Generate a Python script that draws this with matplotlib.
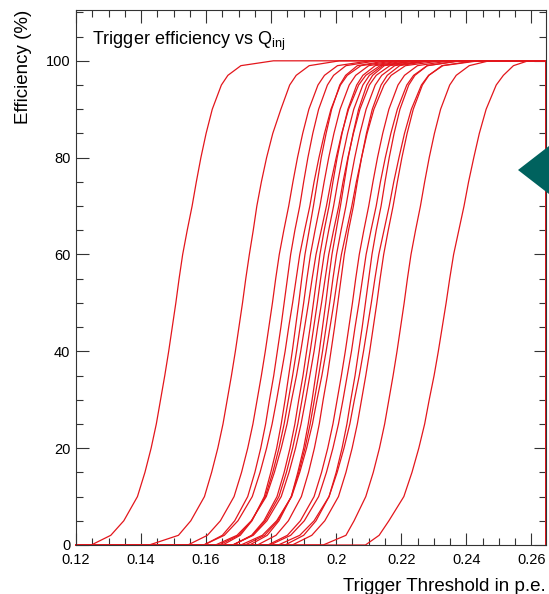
import numpy as np
import matplotlib
matplotlib.use('Agg')
import matplotlib.pyplot as plt
from matplotlib.patches import Polygon
from matplotlib.ticker import MultipleLocator

plt.rcParams['font.family'] = ['Liberation Sans', 'DejaVu Sans']
plt.rcParams['mathtext.fontset'] = 'custom'
plt.rcParams['mathtext.rm'] = 'Liberation Sans'

# efficiency levels (%) and the threshold (p.e.) where each channel reaches them
eff_levels = [0, 2, 5, 10, 15, 20, 25, 30, 35, 40, 45, 50,
              55, 60, 65, 70, 75, 80, 85, 90, 95, 97, 99, 100]

ch01 = [0.1247, 0.1307, 0.1347, 0.1389, 0.1412, 0.1431, 0.1447, 0.1460, 0.1473, 0.1485, 0.1496, 0.1507,
        0.1517, 0.1528, 0.1542, 0.1557, 0.1570, 0.1584, 0.1600, 0.1619, 0.1647, 0.1667, 0.1707, 0.1807]
ch02 = [0.1425, 0.1515, 0.1553, 0.1595, 0.1617, 0.1636, 0.1652, 0.1665, 0.1678, 0.1690, 0.1701, 0.1712,
        0.1722, 0.1733, 0.1745, 0.1756, 0.1770, 0.1786, 0.1805, 0.1830, 0.1857, 0.1877, 0.1917, 0.2010]
ch03 = [0.1544, 0.1604, 0.1644, 0.1686, 0.1709, 0.1728, 0.1744, 0.1757, 0.1770, 0.1782, 0.1793, 0.1804,
        0.1814, 0.1825, 0.1839, 0.1854, 0.1867, 0.1881, 0.1897, 0.1916, 0.1944, 0.1964, 0.2004, 0.2104]
ch04 = [0.1593, 0.1650, 0.1688, 0.1728, 0.1750, 0.1768, 0.1783, 0.1795, 0.1808, 0.1819, 0.1830, 0.1840,
        0.1850, 0.1860, 0.1873, 0.1888, 0.1900, 0.1913, 0.1928, 0.1946, 0.1973, 0.1992, 0.2030, 0.2125]
ch05 = [0.1593, 0.1656, 0.1698, 0.1742, 0.1766, 0.1786, 0.1803, 0.1817, 0.1830, 0.1843, 0.1854, 0.1866,
        0.1877, 0.1888, 0.1903, 0.1919, 0.1932, 0.1947, 0.1964, 0.1984, 0.2013, 0.2034, 0.2076, 0.2181]
ch06 = [0.1651, 0.1705, 0.1741, 0.1779, 0.1799, 0.1817, 0.1831, 0.1843, 0.1854, 0.1865, 0.1875, 0.1885,
        0.1894, 0.1904, 0.1917, 0.1930, 0.1942, 0.1954, 0.1969, 0.1986, 0.2011, 0.2029, 0.2065, 0.2155]
ch07 = [0.1640, 0.1700, 0.1740, 0.1782, 0.1805, 0.1824, 0.1840, 0.1853, 0.1866, 0.1878, 0.1889, 0.1900,
        0.1910, 0.1921, 0.1935, 0.1950, 0.1963, 0.1977, 0.1993, 0.2012, 0.2040, 0.2060, 0.2100, 0.2200]
ch08 = [0.1629, 0.1695, 0.1739, 0.1785, 0.1810, 0.1831, 0.1849, 0.1863, 0.1878, 0.1891, 0.1903, 0.1915,
        0.1926, 0.1938, 0.1954, 0.1970, 0.1984, 0.2000, 0.2017, 0.2038, 0.2069, 0.2091, 0.2135, 0.2245]
ch09 = [0.1683, 0.1740, 0.1778, 0.1818, 0.1840, 0.1858, 0.1873, 0.1885, 0.1898, 0.1909, 0.1920, 0.1930,
        0.1940, 0.1950, 0.1963, 0.1978, 0.1990, 0.2003, 0.2018, 0.2036, 0.2063, 0.2082, 0.2120, 0.2215]
ch10 = [0.1682, 0.1742, 0.1782, 0.1824, 0.1847, 0.1866, 0.1882, 0.1895, 0.1908, 0.1920, 0.1931, 0.1942,
        0.1952, 0.1963, 0.1977, 0.1992, 0.2005, 0.2019, 0.2035, 0.2054, 0.2082, 0.2102, 0.2142, 0.2242]
ch11 = [0.1682, 0.1745, 0.1787, 0.1831, 0.1855, 0.1875, 0.1892, 0.1906, 0.1919, 0.1932, 0.1943, 0.1955,
        0.1966, 0.1977, 0.1992, 0.2008, 0.2021, 0.2036, 0.2053, 0.2073, 0.2102, 0.2123, 0.2165, 0.2270]
ch12 = [0.1734, 0.1788, 0.1824, 0.1862, 0.1882, 0.1900, 0.1914, 0.1926, 0.1937, 0.1948, 0.1958, 0.1968,
        0.1977, 0.1987, 0.2000, 0.2013, 0.2025, 0.2037, 0.2052, 0.2069, 0.2094, 0.2112, 0.2148, 0.2238]
ch13 = [0.1720, 0.1780, 0.1820, 0.1862, 0.1885, 0.1904, 0.1920, 0.1933, 0.1946, 0.1958, 0.1969, 0.1980,
        0.1990, 0.2001, 0.2015, 0.2030, 0.2043, 0.2057, 0.2073, 0.2092, 0.2120, 0.2140, 0.2180, 0.2280]
ch14 = [0.1707, 0.1773, 0.1817, 0.1863, 0.1888, 0.1909, 0.1927, 0.1941, 0.1956, 0.1969, 0.1981, 0.1993,
        0.2004, 0.2016, 0.2032, 0.2048, 0.2062, 0.2078, 0.2095, 0.2116, 0.2147, 0.2169, 0.2213, 0.2323]
ch15 = [0.1758, 0.1815, 0.1853, 0.1893, 0.1915, 0.1933, 0.1948, 0.1960, 0.1973, 0.1984, 0.1995, 0.2005,
        0.2015, 0.2025, 0.2038, 0.2053, 0.2065, 0.2078, 0.2093, 0.2111, 0.2138, 0.2157, 0.2195, 0.2290]
ch16 = [0.1790, 0.1850, 0.1890, 0.1932, 0.1955, 0.1974, 0.1990, 0.2003, 0.2016, 0.2028, 0.2039, 0.2050,
        0.2060, 0.2071, 0.2085, 0.2100, 0.2113, 0.2127, 0.2143, 0.2162, 0.2190, 0.2210, 0.2250, 0.2350]
ch17 = [0.1797, 0.1860, 0.1902, 0.1946, 0.1970, 0.1990, 0.2007, 0.2021, 0.2034, 0.2047, 0.2058, 0.2070,
        0.2081, 0.2092, 0.2107, 0.2123, 0.2136, 0.2151, 0.2168, 0.2188, 0.2217, 0.2238, 0.2280, 0.2385]
ch18 = [0.1843, 0.1900, 0.1938, 0.1978, 0.2000, 0.2018, 0.2033, 0.2045, 0.2058, 0.2069, 0.2080, 0.2090,
        0.2100, 0.2110, 0.2123, 0.2138, 0.2150, 0.2163, 0.2178, 0.2196, 0.2223, 0.2242, 0.2280, 0.2375]
ch19 = [0.1822, 0.1888, 0.1932, 0.1978, 0.2003, 0.2024, 0.2042, 0.2056, 0.2071, 0.2084, 0.2096, 0.2108,
        0.2119, 0.2131, 0.2147, 0.2163, 0.2177, 0.2193, 0.2210, 0.2231, 0.2262, 0.2284, 0.2328, 0.2438]
ch20 = [0.1865, 0.1925, 0.1965, 0.2007, 0.2030, 0.2049, 0.2065, 0.2078, 0.2091, 0.2103, 0.2114, 0.2125,
        0.2135, 0.2146, 0.2160, 0.2175, 0.2188, 0.2202, 0.2218, 0.2237, 0.2265, 0.2285, 0.2325, 0.2425]
ch21 = [0.1960, 0.2030, 0.2055, 0.2091, 0.2114, 0.2133, 0.2149, 0.2162, 0.2175, 0.2187, 0.2198, 0.2209,
        0.2219, 0.2230, 0.2244, 0.2259, 0.2272, 0.2286, 0.2302, 0.2321, 0.2349, 0.2369, 0.2409, 0.2470]
ch22 = [0.2090, 0.2132, 0.2162, 0.2208, 0.2233, 0.2254, 0.2272, 0.2286, 0.2301, 0.2314, 0.2326, 0.2338,
        0.2349, 0.2361, 0.2377, 0.2393, 0.2407, 0.2423, 0.2440, 0.2461, 0.2492, 0.2514, 0.2545, 0.2590]

channels = [ch01, ch02, ch03, ch04, ch05, ch06, ch07, ch08, ch09, ch10, ch11,
            ch12, ch13, ch14, ch15, ch16, ch17, ch18, ch19, ch20, ch21, ch22]

x_min, x_max = 0.12, 0.2645

fig = plt.figure(figsize=(5.49, 5.94), dpi=100)
ax = fig.add_axes([0.1384, 0.0825, 0.8561, 0.9007])

for th in channels:
    xs = [x_min] + th + [x_max, x_max]
    ys = [0] + eff_levels + [100, 0]
    ax.plot(xs, ys, color='#e3161c', lw=0.9, clip_on=False)

ax.set_xlim(x_min, x_max)
ax.set_ylim(0, 110.5)
ax.xaxis.set_major_locator(MultipleLocator(0.02))
ax.xaxis.set_minor_locator(MultipleLocator(0.005))
ax.yaxis.set_major_locator(MultipleLocator(20))
ax.yaxis.set_minor_locator(MultipleLocator(5))
ax.xaxis.set_major_formatter(matplotlib.ticker.FuncFormatter(lambda v, p: ('%.2f' % v).rstrip('0').rstrip('.')))
ax.tick_params(which='both', direction='in', top=True, right=True, color='#333333', width=0.8)
ax.tick_params(which='major', length=9, labelsize=10.5)
ax.tick_params(which='minor', length=5)
ax.tick_params(axis='x', pad=6)
ax.tick_params(axis='y', pad=4)
for sp in ax.spines.values():
    sp.set_color('#333333')
    sp.set_linewidth(0.8)

ax.set_xlabel('Trigger Threshold in p.e.', fontsize=13.5, loc='right', labelpad=8)
ax.set_ylabel('Efficiency (%)', fontsize=13.5, loc='top', labelpad=10)
ax.text(0.035, 0.942, 'Trigger efficiency vs Q$_{\\mathregular{inj}}$', transform=ax.transAxes,
        fontsize=13, va='center', ha='left')

# teal marker on the right edge
fig.patches.append(Polygon([[518 / 549, 1 - 170 / 594], [1.0, 1 - 146 / 594], [1.0, 1 - 194 / 594]],
                           closed=True, transform=fig.transFigure, facecolor='#00625e', edgecolor='none'))

plt.savefig('out.png', dpi=100)
